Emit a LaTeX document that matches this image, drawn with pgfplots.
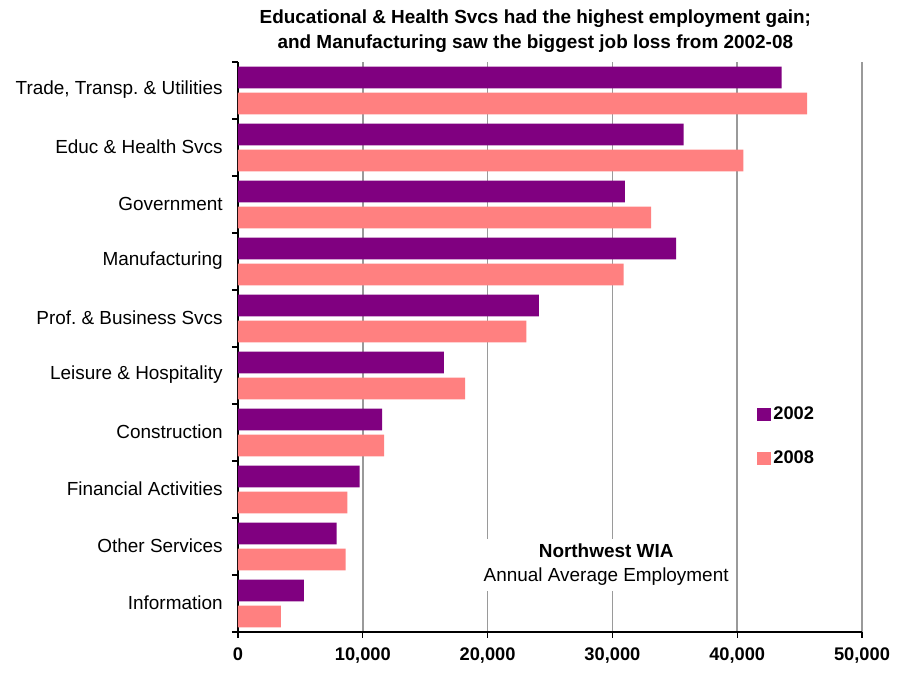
\documentclass[border=0pt]{standalone}
\usepackage{pgfplots}
\pgfplotsset{compat=1.18}
\usepackage{fontspec}
\setmainfont{Liberation Sans}

\definecolor{c2002}{HTML}{800080}
\definecolor{c2008}{HTML}{FF8080}
\definecolor{gridgray}{HTML}{9A9A9A}

\begin{document}
\begin{tikzpicture}
\useasboundingbox (-178.5pt,-30.75pt) rectangle (498pt,474pt);
\begin{axis}[
    xbar,
    scale only axis,
    width=468pt,
    height=427.5pt,
    xmin=0, xmax=50000,
    ymin=-0.5, ymax=9.5,
    axis x line*=bottom,
    axis y line*=left,
    axis line style={black, line width=1pt},
    tick align=outside,
    major tick length=4.5pt,
    scaled x ticks=false,
    xtick={0,10000,...,50000},
    xticklabels={0,{10,000},{20,000},{30,000},{40,000},{50,000}},
    xticklabel style={font=\fontsize{13.7}{15}\selectfont\bfseries, yshift=-4pt},
    x tick style={black, line width=1pt},
    xmajorgrids,
    major grid style={gridgray, line width=1.1pt},
    ytick={0,...,9},
    yticklabels={Information, Other Services, Financial Activities,
      Construction, Leisure \& Hospitality, Prof.\ \& Business Svcs,
      Manufacturing, Government, Educ \& Health Svcs,
      {Trade, Transp.\ \& Utilities}},
    yticklabel style={font=\fontsize{14.2}{16}\selectfont, xshift=-3.5pt, yshift=0.5pt},
    y tick style={draw=none},
    extra y ticks={-0.5,0.5,...,9.5},
    extra y tick labels={},
    extra y tick style={y tick style={draw=black, line width=1pt}, ymajorgrids=false},
    bar width=16.25pt,
    legend style={at={(rel axis cs:0.832,0.4)}, anchor=north west,
      draw=none, fill=none, font=\fontsize{13.7}{15}\selectfont\bfseries,
      row sep=18pt, inner sep=0pt},
    legend cell align=left,
    legend image code/.code={\fill[#1] (0pt,-5pt) rectangle (10pt,5pt);},
]
\addplot[fill=c2002, draw=none, bar shift=9.75pt] coordinates {
  (5270,0) (7900,1) (9740,2) (11550,3) (16500,4)
  (24100,5) (35100,6) (31000,7) (35700,8) (43550,9)};
\addplot[fill=c2008, draw=none, bar shift=-9.75pt] coordinates {
  (3430,0) (8630,1) (8760,2) (11700,3) (18200,4)
  (23100,5) (30900,6) (33100,7) (40500,8) (45600,9)};
\legend{2002,2008}
\node[fill=white, align=center, inner sep=4pt,
  font=\fontsize{14.2}{17.5}\selectfont] at (rel axis cs:0.59,0.118)
  {\textbf{Northwest WIA}\\Annual Average Employment};
\end{axis}
\node[align=center, font=\fontsize{14.2}{18.75}\selectfont\bfseries]
  at (223pt,451pt)
  {Educational \& Health Svcs had the highest employment gain;\\
   and Manufacturing saw the biggest job loss from 2002-08};
\end{tikzpicture}
\end{document}
